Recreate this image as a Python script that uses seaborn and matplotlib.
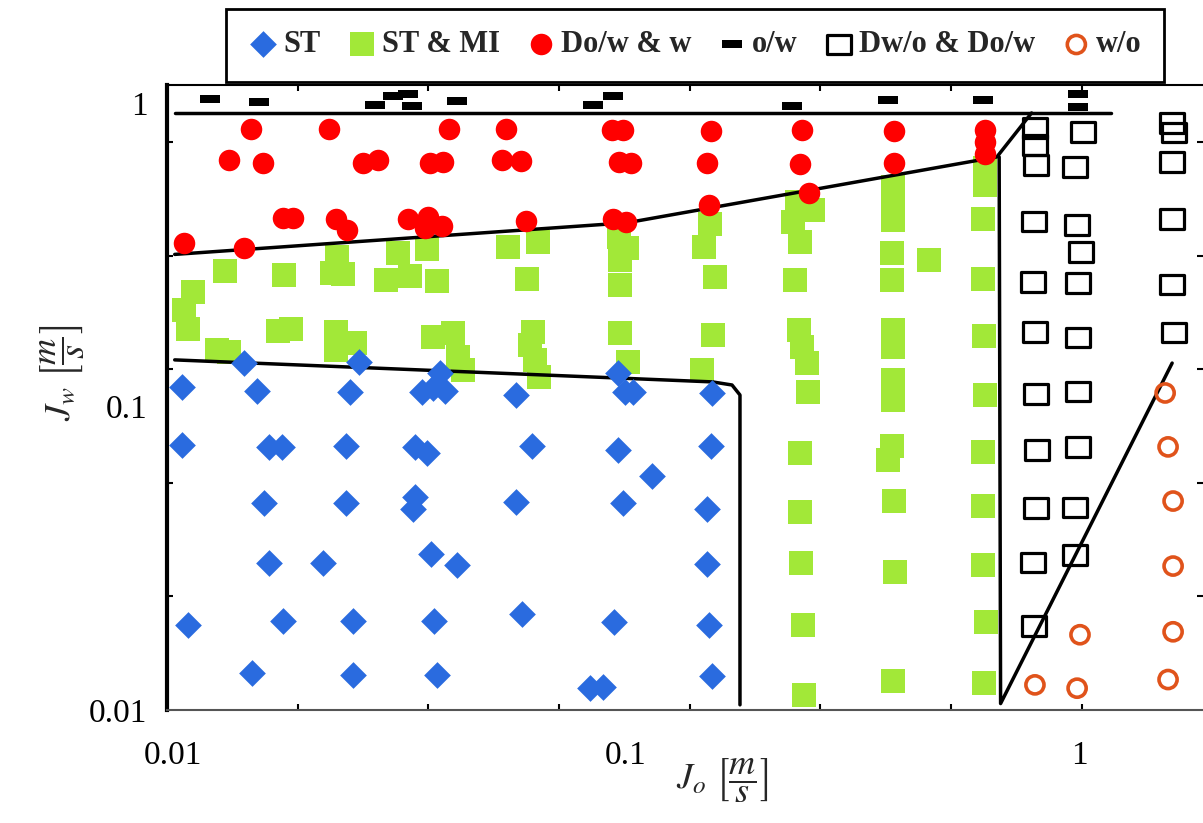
import numpy as np
import matplotlib
matplotlib.use("Agg")
import matplotlib.pyplot as plt
from matplotlib.path import Path
from matplotlib.ticker import FixedLocator, NullFormatter
from matplotlib.transforms import ScaledTranslation
import seaborn as sns

# flow pattern map: superficial oil velocity Jo vs water velocity Jw, m/s
st_jo = [0.0108, 0.0108, 0.0148, 0.0158, 0.0168, 0.0179, 0.0164, 0.0168, 0.0221,
         0.0265, 0.0254, 0.0249, 0.0249, 0.0366, 0.0387, 0.0401, 0.0411, 0.0353,
         0.0375, 0.0353, 0.0349, 0.0383, 0.0437, 0.0589, 0.0639, 0.0589, 0.0990,
         0.1026, 0.1068, 0.0990, 0.1177, 0.1015, 0.1596, 0.1588, 0.1556, 0.1556,
         0.0111, 0.0154, 0.0180, 0.0257, 0.0257, 0.0389, 0.0395, 0.0608, 0.0859,
         0.0917, 0.0970, 0.1572, 0.1596]
st_jw = [0.1159, 0.0747, 0.1391, 0.1125, 0.0736, 0.0736, 0.0481, 0.0305, 0.0305,
         0.1401, 0.1116, 0.0741, 0.0481, 0.1116, 0.1151, 0.1289, 0.1125, 0.0736,
         0.0703, 0.0503, 0.0460, 0.0327, 0.0300, 0.1091, 0.0741, 0.0484, 0.1289,
         0.1116, 0.1116, 0.0719, 0.0590, 0.0481, 0.1108, 0.0741, 0.0460, 0.0303,
         0.0191, 0.0132, 0.0196, 0.0196, 0.0130, 0.0196, 0.0130, 0.0207, 0.0118,
         0.0119, 0.0195, 0.0191, 0.0129]

stmi_jo = [0.0109, 0.0111, 0.0114, 0.0129, 0.0137, 0.0134, 0.0181, 0.0176, 0.0188,
           0.0237, 0.0231, 0.0245, 0.0236, 0.0260, 0.0236, 0.0324, 0.0375, 0.0304,
           0.0344, 0.0395, 0.0387, 0.0428, 0.0439, 0.0450, 0.0566, 0.0659, 0.0623,
           0.0643, 0.0633, 0.0649, 0.0663, 0.0995, 0.1036, 0.1000, 0.1000, 0.1000,
           0.1041, 0.1580, 0.1532, 0.1621, 0.1604, 0.1517, 0.2459, 0.2667, 0.2409,
           0.2496, 0.2434, 0.2484, 0.2522, 0.2587, 0.2600, 0.2496, 0.2496, 0.2509,
           0.2535, 0.2548, 0.4006, 0.4006, 0.4006, 0.4006, 0.3986, 0.3986, 0.4006,
           0.4006, 0.4006, 0.4006, 0.3986, 0.3906, 0.4025, 0.4046, 0.4006, 0.4810,
           0.6393, 0.6393, 0.6327, 0.6327, 0.6359, 0.6393, 0.6327, 0.6327, 0.6327,
           0.6424, 0.6359]
stmi_jw = [0.2080, 0.1800, 0.2384, 0.1535, 0.1512, 0.2796, 0.2713, 0.1773, 0.1800,
           0.3109, 0.2754, 0.2733, 0.1760, 0.1619, 0.1535, 0.3205, 0.3303, 0.2612,
           0.2692, 0.2592, 0.1694, 0.1746, 0.1456, 0.1319, 0.3354, 0.3483, 0.2632,
           0.1760, 0.1595, 0.1423, 0.1251, 0.3618, 0.3329, 0.3039, 0.2514, 0.1746,
           0.1401, 0.3993, 0.3354, 0.2672, 0.1720, 0.1319, 0.4718, 0.4440, 0.4055,
           0.3483, 0.2612, 0.1787, 0.1570, 0.1391, 0.1116, 0.0703, 0.0449, 0.0305,
           0.0191, 0.0112, 0.5286, 0.4900, 0.4508, 0.4116, 0.3205, 0.2612, 0.1787,
           0.1570, 0.1223, 0.1050, 0.0741, 0.0666, 0.0488, 0.0285, 0.0125, 0.3039,
           0.6107, 0.5367, 0.4148, 0.2632, 0.1707, 0.1091, 0.0708, 0.0470, 0.0300,
           0.0195, 0.0123]

dow_jo = [0.0153, 0.0228, 0.0419, 0.0137, 0.0163, 0.0271, 0.0292, 0.0381, 0.0407,
          0.0180, 0.0190, 0.0236, 0.0250, 0.0340, 0.0377, 0.0371, 0.0405, 0.0109,
          0.0148, 0.0560, 0.0960, 0.1015, 0.1588, 0.2522, 0.0549, 0.0605, 0.0995,
          0.1057, 0.1556, 0.2496, 0.0620, 0.0966, 0.1031, 0.1572, 0.2614, 0.4025,
          0.4025, 0.6393, 0.6393, 0.6393]
dow_jw = [0.821, 0.821, 0.821, 0.649, 0.634, 0.634, 0.649, 0.634, 0.639,
          0.418, 0.418, 0.415, 0.382, 0.415, 0.421, 0.387, 0.393, 0.346,
          0.333, 0.821, 0.815, 0.815, 0.809, 0.815, 0.649, 0.644, 0.639,
          0.634, 0.634, 0.630, 0.409, 0.415, 0.405, 0.461, 0.505, 0.809,
          0.634, 0.815, 0.744, 0.679]

ow_jo = [0.01245, 0.0160, 0.0288, 0.0316, 0.0340, 0.0347, 0.0437, 0.0872, 0.0966,
         0.240, 0.391, 0.633, 1.026, 1.026]
ow_jw = [1.031, 1.007, 0.985, 1.055, 1.072, 0.977, 1.015, 0.985, 1.055,
         0.977, 1.023, 1.023, 1.072, 0.970]

dwo_jo = [0.824, 0.824, 0.828, 1.052, 1.010, 0.820, 1.021, 1.042, 0.816, 1.026,
          0.824, 1.026, 1.654, 1.671, 1.654, 1.654, 1.654, 1.671, 0.828, 1.026,
          0.833, 1.026, 0.828, 1.010, 0.816, 1.010, 0.820]
dwo_jw = [0.827, 0.727, 0.625, 0.803, 0.615, 0.406, 0.396, 0.323, 0.257, 0.255,
          0.176, 0.169, 0.859, 0.797, 0.639, 0.415, 0.253, 0.175, 0.110, 0.112,
          0.0719, 0.0736, 0.0463, 0.0466, 0.0307, 0.0324, 0.0189]

wo_jo = [1.597, 1.621, 1.663, 1.663, 1.663, 1.621, 1.036, 1.021, 0.824]
wo_jw = [0.1108, 0.0736, 0.0488, 0.0298, 0.0181, 0.0126, 0.0177, 0.0118, 0.0121]

# transition boundaries
top_jo = [0.0104, 1.21]
top_jw = [0.927, 0.927]
upper_jo = [0.0104, 0.1036, 0.679, 0.81]
upper_jw = [0.317, 0.403, 0.664, 0.927]
stb_jo = [0.0104, 0.160, 0.1767, 0.184, 0.184]
stb_jw = [0.1424, 0.1205, 0.1177, 0.1091, 0.0104]
wob_jo = [0.687, 0.692, 1.655]
wob_jw = [0.664, 0.0105, 0.139]

sns.set_theme(style="white")
plt.rcParams["font.family"] = ["Liberation Serif", "DejaVu Serif"]
plt.rcParams["mathtext.fontset"] = "stix"

fig = plt.figure(figsize=(12.03, 8.23), dpi=100)
ax = fig.add_axes([167 / 1203, 1 - 710 / 823, 1036 / 1203, 625 / 823])
ax.set_xscale("log")
ax.set_yscale("log")

dash = Path([(-1, -0.35), (1, -0.35), (1, 0.35), (-1, 0.35), (-1, -0.35)], closed=True)
box = Path([(-1, -0.8), (1, -0.8), (1, 0.8), (-1, 0.8), (-1, -0.8)], closed=True)

sns.scatterplot(x=stmi_jo, y=stmi_jw, ax=ax, marker="s", s=280, color="#A2E838",
                linewidth=0, label="ST & MI", zorder=1.5)
sns.scatterplot(x=st_jo, y=st_jw, ax=ax, marker="D", s=185, color="#2A6BDF",
                linewidth=0, label="ST", zorder=3)
sns.scatterplot(x=dow_jo, y=dow_jw, ax=ax, marker="o", s=240, color="#FF0000",
                linewidth=0, label="Do/w & w", zorder=3)
sns.scatterplot(x=ow_jo, y=ow_jw, ax=ax, marker=dash, s=210, color="black",
                linewidth=0, label="o/w", zorder=3)
sns.scatterplot(x=dwo_jo, y=dwo_jw, ax=ax, marker=box, s=300, color="black",
                facecolor="none", edgecolor="black", linewidth=2.3,
                label="Dw/o & Do/w", zorder=3)
sns.scatterplot(x=wo_jo, y=wo_jw, ax=ax, marker="o", s=170, color="#E0531B",
                facecolor="none", edgecolor="#E0531B", linewidth=2.6,
                label="w/o", zorder=3)

for bx, by in [(top_jo, top_jw), (upper_jo, upper_jw), (stb_jo, stb_jw), (wob_jo, wob_jw)]:
    ax.plot(bx, by, color="black", lw=2.5, zorder=2, solid_joinstyle="round")

ax.set_xlim(0.01, 1.936)
ax.set_ylim(0.01, 1.146)

ax.set_xticks([0.01, 0.1, 1], labels=["0.01", "0.1", "1"])
ax.set_yticks([0.01, 0.1, 1], labels=["0.01", "0.1", "1"])
ax.xaxis.set_minor_locator(FixedLocator(10 ** (-2 + 0.2885 * np.arange(1, 8))))
ax.yaxis.set_minor_locator(FixedLocator(10 ** (-2 + 0.374 * np.arange(1, 6))))
ax.xaxis.set_minor_formatter(NullFormatter())
ax.yaxis.set_minor_formatter(NullFormatter())
ax.tick_params(which="major", length=0, labelsize=24, colors="black")
ax.tick_params(axis="x", which="major", pad=22)
ax.tick_params(axis="y", which="major", pad=14)
ax.tick_params(which="minor", direction="in", length=4, width=1.5, color="black",
               top=True, right=True, bottom=True, left=True)
# x tick labels sit a little right of their ticks in the original
shift = ScaledTranslation(6 / 100, 0, fig.dpi_scale_trans)
for lab in ax.get_xticklabels():
    lab.set_transform(lab.get_transform() + shift)

for side in ["left", "bottom", "top"]:
    ax.spines[side].set_visible(True)
    ax.spines[side].set_color("black")
ax.spines["left"].set_linewidth(3)
ax.spines["bottom"].set_linewidth(1.5)
ax.spines["bottom"].set_color("#555555")
ax.spines["top"].set_linewidth(1.5)
ax.spines["right"].set_visible(False)

ax.set_xlabel(r"$J_o\ \left[\dfrac{m}{s}\right]$", fontsize=26)
ax.set_ylabel(r"$J_w\ \left[\dfrac{m}{s}\right]$", fontsize=26)
ax.xaxis.set_label_coords(0.536, -0.074)
ax.yaxis.set_label_coords(-0.078, 0.54)

handles, labels = ax.get_legend_handles_labels()
if ax.get_legend() is not None:
    ax.get_legend().remove()
order = ["ST", "ST & MI", "Do/w & w", "o/w", "Dw/o & Do/w", "w/o"]
hmap = dict(zip(labels, handles))
leg = fig.legend([hmap[k] for k in order], order, loc="center",
                 bbox_to_anchor=(695 / 1203, 1 - 45 / 823), ncol=6,
                 prop=dict(family="Liberation Serif", weight="bold", size=22),
                 frameon=True, fancybox=False, edgecolor="black", framealpha=1,
                 handletextpad=0.15, columnspacing=0.85, handlelength=1.0,
                 borderpad=0.72, scatterpoints=1)
leg.get_frame().set_linewidth(2.0)

fig.savefig("out.png", dpi=100)
